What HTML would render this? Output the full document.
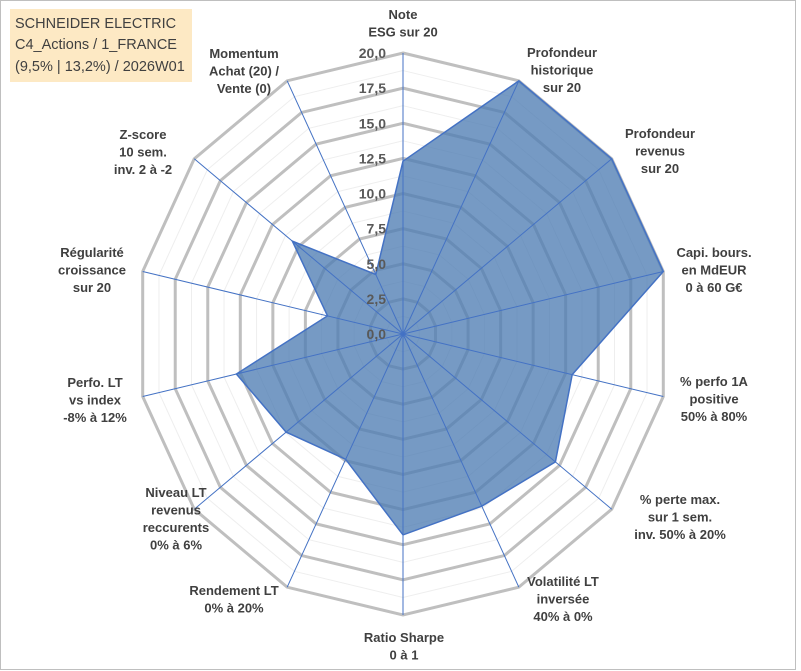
<!DOCTYPE html>
<html><head><meta charset="utf-8"><style>
html,body{margin:0;padding:0;background:#fff;}
svg{display:block;font-family:"Liberation Sans",Arial,sans-serif;}
.lab{font-weight:bold;font-size:13px;fill:#404040;text-anchor:middle;}
.tick{font-weight:bold;font-size:14px;fill:#595959;text-anchor:end;}
</style></head><body>
<svg id="chart" width="801" height="671" viewBox="0 0 801 671">
<rect x="0.5" y="0.5" width="795" height="669" fill="#fff" stroke="#bfbfbf"/>
<g id="grid"></g>
<g id="series"></g>
<g id="spokes"></g>
<g id="ticks"></g>
<g id="labels"></g>
<g>
<rect x="10" y="9" width="182" height="73" fill="#fde9c4"/>
<text x="15" y="28" font-size="14.5" fill="#404040">SCHNEIDER ELECTRIC</text>
<text x="15" y="49" font-size="14.5" fill="#404040">C4_Actions / 1_FRANCE</text>
<text x="15" y="71" font-size="14.5" fill="#404040">(9,5% | 13,2%) / 2026W01</text>
</g>
</svg>
<script>
const categories=[["Note","ESG sur 20"],["Profondeur","historique","sur 20"],["Profondeur","revenus","sur 20"],["Capi. bours.","en MdEUR","0 à 60 G€"],["% perfo 1A","positive","50% à 80%"],["% perte max.","sur 1 sem.","inv. 50% à 20%"],["Volatilité LT","inversée","40% à 0%"],["Ratio Sharpe","0 à 1"],["Rendement LT","0% à 20%"],["Niveau LT","revenus","reccurents","0% à 6%"],["Perfo. LT","vs index","-8% à 12%"],["Régularité","croissance","sur 20"],["Z-score","10 sem.","inv. 2 à -2"],["Momentum","Achat (20) /","Vente (0)"]];
const values=[12.3,20,20,20,13,14.6,13.6,14.3,9.9,11.2,12.8,5.8,10.6,4.7];
const tickLabels=["0,0","2,5","5,0","7,5","10,0","12,5","15,0","17,5","20,0"];
const labelPos=[[403,14],[562,52],[660,133],[714,252],[714,381],[680,499],[563,581],[404,637],[234,590],[176,492],[95,382],[92,252],[143,134],[244,53]];
const cx=403,cy=334,rx=267,ry=281,maxV=20,N=categories.length;
const NS="http://www.w3.org/2000/svg";
function pt(i,v){const a=i*2*Math.PI/N;return [cx+Math.sin(a)*rx*v/maxV, cy-Math.cos(a)*ry*v/maxV];}
function mk(tag,attrs,parent){const e=document.createElementNS(NS,tag);for(const k in attrs)e.setAttribute(k,attrs[k]);parent.appendChild(e);return e;}
const grid=document.getElementById('grid');
for(let s=1;s<=16;s++){const v=s*1.25;const pts=[];for(let i=0;i<N;i++)pts.push(pt(i,v).join(','));
 const major=s%2===0;
 const p=mk('polygon',{points:pts.join(' '),fill:'none',stroke:major?'#bfbfbf':'#eeeeee','stroke-width':major?3:1},grid);
 
 }
const ser=document.getElementById('series');
const sp=values.map((v,i)=>pt(i,v).join(',')).join(' ');
const poly=mk('polygon',{points:sp,fill:'#4f7db4','fill-opacity':'0.78',stroke:'#4472c4','stroke-width':1.5},ser);


const spokes=document.getElementById('spokes');
for(let i=0;i<N;i++){const [x,y]=pt(i,maxV);const l=mk('line',{x1:cx,y1:cy,x2:x,y2:y,stroke:'#4472c4','stroke-width':1},spokes);
 
 }
const ticks=document.getElementById('ticks');
tickLabels.forEach((t,k)=>{const v=k*maxV/(tickLabels.length-1);const y=cy-ry*v/maxV;
 const e=mk('text',{x:386,y:y+5,class:'tick'},ticks);e.textContent=t;
 
 });
const labs=document.getElementById('labels');
categories.forEach((c,i)=>{const [x,y]=labelPos[i];
 const t=mk('text',{x:x,y:y+5,class:'lab'},labs);
 
 
 c.forEach((ln,j)=>{const ts=mk('tspan',{x:x,dy:j?17.5:0},t);ts.textContent=ln;});});
</script>
</body></html>
